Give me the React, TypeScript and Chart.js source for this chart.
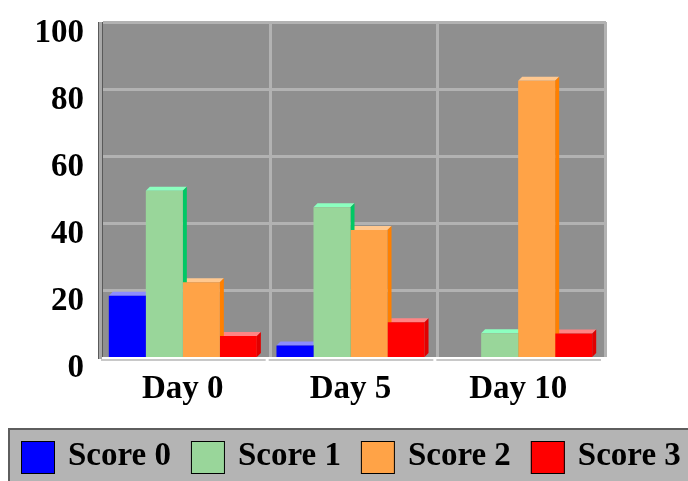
import { useEffect, useRef } from "react";
import { Chart, registerables } from "chart.js";

Chart.register(...registerables);

const categories = ["Day 0", "Day 5", "Day 10"];
const seriesNames = ["Score 0", "Score 1", "Score 2", "Score 3"];
const score0 = [18.3, 3.4, 0];
const score1 = [49.6, 44.7, 7.1];
const score2 = [22.3, 37.9, 82.5];
const score3 = [6.3, 10.4, 7.0];
const yTicks = [0, 20, 40, 60, 80, 100];

const frontColors = ["#0000ff", "#99d69a", "#ffa347", "#ff0000"];
const topColors = ["#8c8cff", "#8cffbf", "#ffc890", "#ff8484"];
const sideColors = ["#0000c0", "#00c864", "#ff8000", "#e00000"];

const DEPTH = 4;
const FONT = { family: "'Liberation Serif', 'Times New Roman', serif", size: 33, weight: "bold" as const };

const threeD = {
  id: "threeD",
  beforeDraw(chart: any) {
    const { ctx, chartArea: a, scales } = chart;
    const x = scales.x;
    const y = scales.y;
    ctx.save();
    // back wall
    ctx.fillStyle = "#8f8f8f";
    ctx.fillRect(a.left + DEPTH, a.top, a.right - a.left, a.bottom - a.top);
    // horizontal grid
    ctx.strokeStyle = "#b2b2b2";
    ctx.lineWidth = 3;
    for (const v of yTicks) {
      if (v === 0) continue;
      const py = Math.round(y.getPixelForValue(v)) + 0.5;
      ctx.beginPath();
      ctx.moveTo(a.left + DEPTH, py);
      ctx.lineTo(a.right + DEPTH, py);
      ctx.stroke();
    }
    // vertical grid at category boundaries
    for (let i = 0; i < categories.length; i++) {
      const px = Math.round(x.getPixelForValue(i + 0.5)) + DEPTH - 0.5;
      ctx.beginPath();
      ctx.moveTo(px, a.top);
      ctx.lineTo(px, a.bottom);
      ctx.stroke();
    }
    // left axis strip
    ctx.fillStyle = "#a8a8a8";
    ctx.fillRect(a.left - 1, a.top, 4, a.bottom - a.top + 2);
    ctx.fillStyle = "#5a5a5a";
    ctx.fillRect(a.left - 1, a.top, 1, a.bottom - a.top + 2);
    ctx.fillRect(a.left + 3, a.top, 1, a.bottom - a.top);
    // floor strip
    ctx.fillStyle = "#c8c8c8";
    for (let i = 0; i < categories.length; i++) {
      const x0 = x.getPixelForValue(i - 0.5) + 2;
      const x1 = x.getPixelForValue(i + 0.5) - 1;
      ctx.fillRect(x0, a.bottom + 2, x1 - x0, 2);
    }
    ctx.restore();
  },
  beforeDatasetsDraw(chart: any) {
    const { ctx } = chart;
    ctx.save();
    const bars: any[] = [];
    chart.data.datasets.forEach((_: any, di: number) => {
      const meta = chart.getDatasetMeta(di);
      meta.data.forEach((el: any) => {
        const p = el.getProps(["x", "y", "base", "width"], true);
        if (p.base - p.y < 0.5) return;
        bars.push({ ...p, di });
      });
    });
    for (const b of bars) {
      const l = b.x - b.width / 2;
      const r = b.x + b.width / 2;
      ctx.fillStyle = topColors[b.di];
      ctx.beginPath();
      ctx.moveTo(l, b.y);
      ctx.lineTo(r, b.y);
      ctx.lineTo(r + DEPTH, b.y - DEPTH);
      ctx.lineTo(l + DEPTH, b.y - DEPTH);
      ctx.closePath();
      ctx.fill();
    }
    for (const b of bars) {
      const r = b.x + b.width / 2;
      ctx.fillStyle = sideColors[b.di];
      ctx.beginPath();
      ctx.moveTo(r, b.y);
      ctx.lineTo(r + DEPTH, b.y - DEPTH);
      ctx.lineTo(r + DEPTH, b.base - DEPTH);
      ctx.lineTo(r, b.base);
      ctx.closePath();
      ctx.fill();
    }
    ctx.restore();
  },
  afterDraw(chart: any) {
    const { ctx } = chart;
    ctx.save();
    ctx.fillStyle = "#b4b4b4";
    ctx.fillRect(8, 428, 700, 60);
    ctx.fillStyle = "#5e5e5e";
    ctx.fillRect(8, 428, 700, 2);
    ctx.fillRect(8, 428, 2, 60);
    ctx.font = "bold 33px 'Liberation Serif', 'Times New Roman', serif";
    ctx.textBaseline = "alphabetic";
    ctx.textAlign = "left";
    let lx = 21;
    chart.data.datasets.forEach((ds: any) => {
      ctx.fillStyle = ds.backgroundColor;
      ctx.fillRect(lx, 441, 34, 33);
      ctx.strokeStyle = "#000";
      ctx.lineWidth = 1;
      ctx.strokeRect(lx + 0.5, 441.5, 33, 32);
      ctx.fillStyle = "#000";
      ctx.fillText(ds.label, lx + 47, 465);
      lx += 47 + ctx.measureText(ds.label).width + 20;
    });
    ctx.restore();
  },
};

export default function App() {
  const ref = useRef<HTMLCanvasElement | null>(null);
  useEffect(() => {
    if (!ref.current) return;
    const seriesValues = [score0, score1, score2, score3];
    const chart = new Chart(ref.current, {
      type: "bar",
      data: {
        labels: categories,
        datasets: seriesNames.map((name, i) => ({
          label: name,
          data: seriesValues[i],
          backgroundColor: frontColors[i],
          borderWidth: 0,
          categoryPercentage: 0.883,
          barPercentage: 1,
        })),
      },
      options: {
        animation: false,
        responsive: false,
        layout: { padding: { left: 0, right: 86, top: 22, bottom: 0 } },
        plugins: { legend: { display: false }, tooltip: { enabled: false } },
        scales: {
          x: {
            grid: { display: false },
            border: { display: false },
            ticks: { font: FONT, color: "#000", padding: 5, maxRotation: 0, autoSkip: false },
            afterFit(s: any) { s.height = 124; s.paddingLeft = 0; s.paddingRight = 0; },
          },
          y: {
            min: 0,
            max: 100,
            grid: { display: false, drawTicks: false },
            border: { display: false },
            ticks: { stepSize: 20, font: FONT, color: "#000", padding: 15, labelOffset: 11 },
            afterFit(s: any) { s.width = 99; s.paddingTop = 0; s.paddingBottom = 0; },
          },
        },
      },
      plugins: [threeD],
    });
    return () => chart.destroy();
  }, []);
  return (
    <div style={{ position: "fixed", left: 0, top: 0, width: 688, height: 481, background: "#fff" }}>
      <canvas ref={ref} width={688} height={481} />
    </div>
  );
}
